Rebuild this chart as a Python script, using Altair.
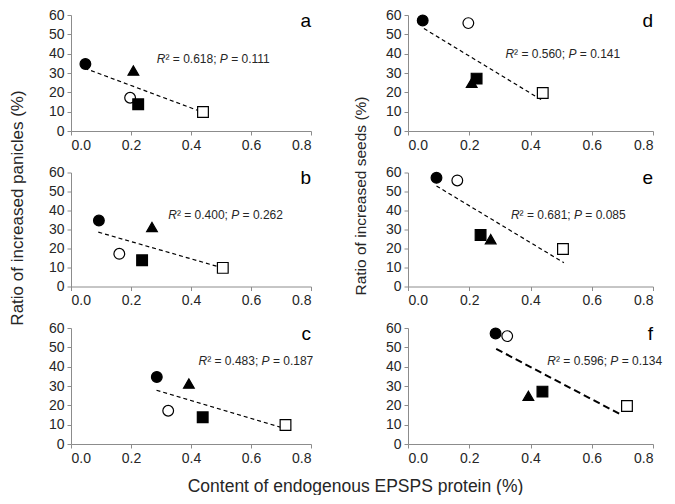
import altair as alt
import pandas as pd

FONT = "Liberation Sans"

# marker categories (same order in every array below)
shape_names = ["filled circle", "open circle", "filled triangle", "filled square", "open square"]
shape_marks = ["circle", "circle", "triangle-up", "square", "square"]
shape_fills = ["black", "white", "black", "black", "white"]

# content of endogenous EPSPS protein (%), one list per row of panels
x_row1 = [0.048, 0.197, 0.208, 0.224, 0.440]
x_row2 = [0.093, 0.161, 0.270, 0.237, 0.506]
x_row3 = [0.286, 0.324, 0.393, 0.439, 0.715]

# ratio of increased panicles / seeds (%)
panicles = [34.7, 17.2, 31.3, 13.8, 9.8]
seeds = [57.2, 55.8, 24.9, 27.1, 19.7]

# dashed regression lines: (x start, y start, x end, y end)
panel_keys = ["a", "b", "c", "d", "e", "f"]
line_x1 = [0.045, 0.091, 0.285, 0.052, 0.093, 0.288]
line_y1 = [32.5, 28.6, 27.8, 53.0, 52.9, 49.2]
line_x2 = [0.439, 0.505, 0.713, 0.439, 0.509, 0.700]
line_y2 = [9.7, 9.8, 8.0, 15.8, 12.5, 14.8]

# statistics
r2_values = ["0.618", "0.400", "0.483", "0.560", "0.681", "0.596"]
p_values = ["0.111", "0.262", "0.187", "0.141", "0.085", "0.134"]
ann_x = [0.286, 0.324, 0.425, 0.318, 0.336, 0.455]
ann_y = [37.0, 37.6, 42.8, 40.0, 37.5, 42.8]

y_title_left = "Ratio of increased panicles (%)"
y_title_right = "Ratio of increased seeds (%)"
x_title = "Content of endogenous EPSPS protein (%)"

x_ticks = [0.0, 0.2, 0.4, 0.6, 0.8]
y_ticks = [0, 10, 20, 30, 40, 50, 60]

panel_x = {"a": x_row1, "b": x_row2, "c": x_row3, "d": x_row1, "e": x_row2, "f": x_row3}
panel_y = {"a": panicles, "b": panicles, "c": panicles, "d": seeds, "e": seeds, "f": seeds}

TEXT_COLOR = "#262626"
AXIS_COLOR = "#8c8c8c"

LEFT_W = 240
RIGHT_W = 245
COL_GAP = 97
H_OUTER = 116
H_MID = 114


def panel(key, w, h, ytitle=None, title_y=None, title_pad=None, title_size=None, xtitle=None):
    i = panel_keys.index(key)
    pts = pd.DataFrame({"x": panel_x[key], "y": panel_y[key], "kind": shape_names})
    ln = pd.DataFrame({"x": [line_x1[i], line_x2[i]], "y": [line_y1[i], line_y2[i]]})
    ann = pd.DataFrame({"x": [ann_x[i]], "y": [ann_y[i]],
                        "r2": ["\u00b2 = " + r2_values[i] + ";"],
                        "p": ["= " + p_values[i]]})
    let = pd.DataFrame({"x": [0.8], "y": [54.0], "t": [key]})

    yaxis_kw = dict(values=y_ticks, tickSize=4, labelPadding=3, labelOverlap=False)
    if ytitle:
        yaxis_kw.update(title=ytitle, titleY=title_y, titlePadding=title_pad, titleFontSize=title_size)
    else:
        yaxis_kw.update(title=None)
    xaxis_kw = dict(values=x_ticks, format=".1f", tickSize=4, labelPadding=3, labelOverlap=False)
    if xtitle:
        xaxis_kw.update(title=xtitle, titleX=284, titleY=47, titleAlign="center",
                        titleBaseline="alphabetic", titleFontSize=17.5, titleAnchor="start")
    else:
        xaxis_kw.update(title=None)
    xs = alt.Scale(domain=[0, 0.8], nice=False, zero=False)
    ys = alt.Scale(domain=[0, 60], nice=False, zero=False)
    xenc = alt.X("x:Q", scale=xs, axis=alt.Axis(**xaxis_kw))
    yenc = alt.Y("y:Q", scale=ys, axis=alt.Axis(**yaxis_kw))

    dash = [7, 4] if key == "f" else [4, 3]
    sw = 2.0 if key == "f" else 1.2
    line = alt.Chart(ln).mark_line(color="black", strokeDash=dash, strokeWidth=sw).encode(x=xenc, y=yenc)

    points = alt.Chart(pts).mark_point(filled=False, stroke="black", strokeWidth=1.2, opacity=1, size=115).encode(
        x=xenc,
        y=yenc,
        shape=alt.Shape("kind:N", scale=alt.Scale(domain=shape_names, range=shape_marks), legend=None),
        fill=alt.Fill("kind:N", scale=alt.Scale(domain=shape_names, range=shape_fills), legend=None),
    )

    base_t = alt.Chart(ann)
    tkw = dict(align="left", baseline="middle", font=FONT, fontSize=12, color=TEXT_COLOR)
    t1 = base_t.mark_text(fontStyle="italic", dx=0, **tkw).encode(x=xenc, y=yenc, text=alt.value("R"))
    t2 = base_t.mark_text(dx=8.7, **tkw).encode(x=xenc, y=yenc, text="r2:N")
    t3 = base_t.mark_text(fontStyle="italic", dx=63.0, **tkw).encode(x=xenc, y=yenc, text=alt.value("P"))
    t4 = base_t.mark_text(dx=74.4, **tkw).encode(x=xenc, y=yenc, text="p:N")

    letter = alt.Chart(let).mark_text(align="right", baseline="alphabetic", font=FONT, fontSize=19,
                                      color="black").encode(x=xenc, y=yenc, text="t:N")

    return alt.layer(line, points, t1, t2, t3, t4, letter).properties(width=w, height=h)


left = alt.vconcat(
    panel("a", LEFT_W, H_OUTER),
    panel("b", LEFT_W, H_MID, y_title_left, 35, 22, 17),
    panel("c", LEFT_W, H_OUTER, xtitle=x_title),
    spacing=41.5, bounds="flush",
)
right = alt.vconcat(
    panel("d", RIGHT_W, H_OUTER),
    panel("e", RIGHT_W, H_MID, y_title_right, 23, 17, 15.5),
    panel("f", RIGHT_W, H_OUTER),
    spacing=41.5, bounds="flush",
)

# with flush bounds the nested columns count as zero-width, so the spacing spans the left plot too
chart = alt.hconcat(left, right, spacing=LEFT_W + COL_GAP, bounds="flush").properties(
    padding={"left": 0, "top": 0, "right": 0, "bottom": 0},
).configure_view(stroke=None).configure_axis(
    grid=False, domainColor=AXIS_COLOR, tickColor=AXIS_COLOR, labelFont=FONT, labelFontSize=14,
    labelColor=TEXT_COLOR, titleFont=FONT, titleFontSize=16, titleFontWeight="normal", titleColor=TEXT_COLOR,
    domainWidth=1, tickWidth=1,
)

chart.save("out.html", embed_options={"renderer": "svg", "actions": False})
